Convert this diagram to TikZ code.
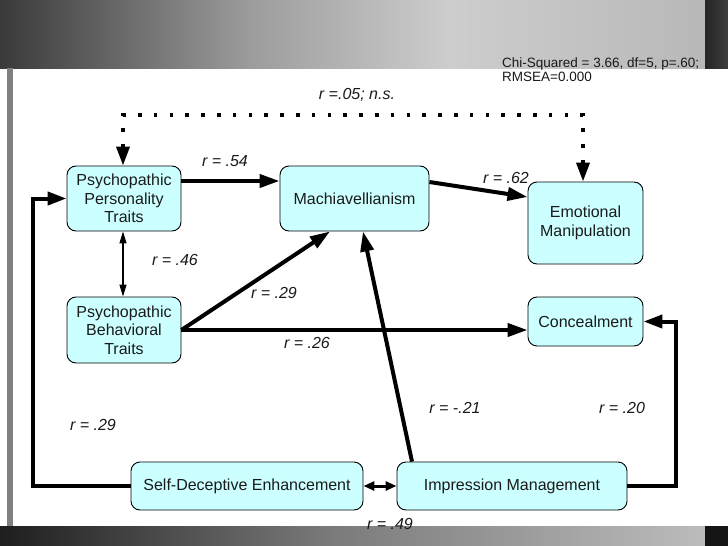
\documentclass[tikz,border=0pt]{standalone}
\usepackage{fontspec}
\setmainfont{Liberation Sans}
\usetikzlibrary{arrows.meta}
\definecolor{boxfill}{HTML}{CCFFFF}
\definecolor{txt}{HTML}{1A1A1A}
\definecolor{bA}{HTML}{3A3A3A}
\definecolor{bB}{HTML}{9C9C9C}
\definecolor{bC}{HTML}{CDCDCD}
\definecolor{bD}{HTML}{B8B8B8}
\definecolor{dA}{HTML}{1E1E1E}
\definecolor{dB}{HTML}{7A7A7A}
\definecolor{dC}{HTML}{BCBCBC}
\begin{document}
\begin{tikzpicture}[x=1pt,y=-1pt,
  box/.style={draw=black, line width=0.9pt, fill=boxfill, rounded corners=9pt,
    align=center, inner sep=0pt, text=txt, font=\fontsize{16}{18.4}\selectfont},
  lab/.style={inner sep=0pt, text=txt, font=\fontsize{16}{18}\selectfont\itshape},
  bigarrow/.style={line width=4pt, -{Triangle[length=20pt,width=13pt]}},
  loopline/.style={line width=4pt, line join=miter, -{Triangle[length=19pt,width=13pt]}},
  thinarrow/.style={line width=1.2pt, {Triangle[length=12pt,width=7pt]}-{Triangle[length=12pt,width=7pt]}},
  smallboth/.style={line width=3pt, {Triangle[length=11pt,width=9pt]}-{Triangle[length=11pt,width=9pt]}},
  dotarrow/.style={line width=3.6pt, line cap=butt, dash pattern=on 3.6pt off 12.2pt,
    {Triangle[length=19pt,width=13pt]}-{Triangle[length=19pt,width=13pt]}}
]
\useasboundingbox (0,0) rectangle (728,546);
\fill[white] (0,0) rectangle (728,546);
% background bands
\shade[left color=bA, right color=bB] (0,0) rectangle (250,68);
\shade[left color=bB, right color=bC] (249.5,0) rectangle (450,68);
\shade[left color=bC, right color=bD] (449.5,0) rectangle (705,68);
\shade[left color=black!85, right color=black!76] (705,0) rectangle (728,68);
\shade[left color=dA, right color=dB] (0,526) rectangle (330,546);
\shade[left color=dB, right color=dC] (329.5,526) rectangle (705,546);
\fill[black!92] (705,526) rectangle (728,546);
\fill[black!50] (7,68) rectangle (13,526);

% statistics
\node[anchor=base west, inner sep=0pt, text=txt, font=\fontsize{13.5}{14}\selectfont] (chi) at (502,67) {Chi-Squared = 3.66, df=5, p=.60;};
\node[anchor=base west, inner sep=0pt, text=txt, font=\fontsize{13.5}{14}\selectfont] (rmsea) at (502,81) {RMSEA=0.000};

% boxes
\node[box, minimum width=114pt, minimum height=65pt] (PPT) at (124,198.5) {Psychopathic\\Personality\\Traits};
\node[box, minimum width=114pt, minimum height=66pt] (PBT) at (124,330) {Psychopathic\\Behavioral\\Traits};
\node[box, minimum width=149pt, minimum height=65pt] (Mach) at (354.5,198.5) {Machiavellianism};
\node[box, minimum width=115pt, minimum height=82pt] (EM) at (585.5,223) {Emotional\\Manipulation};
\node[box, minimum width=115pt, minimum height=49pt] (Conc) at (585.5,321.5) {Concealment};
\node[box, minimum width=232pt, minimum height=48pt] (SDE) at (247,486) {Self-Deceptive Enhancement};
\node[box, minimum width=230pt, minimum height=48pt] (IM) at (512,486) {Impression Management};

% coordinates for bent connectors
\coordinate (D1) at (123,115);
\coordinate (D2) at (583,115);
\coordinate (L1) at (33,486);
\coordinate (L2) at (33,198.5);
\coordinate (R1) at (676,486);
\coordinate (R2) at (676,321.5);

% connectors
\draw[dotarrow] (PPT.north -| D1) -- (D1) -- (D2) -- (D2 |- EM.north);
\draw[bigarrow] ([yshift=17.5pt]PPT.east) -- ([yshift=17.5pt]Mach.west);
\draw[bigarrow] ([yshift=16.5pt]Mach.east) -- ([yshift=26pt]EM.west);
\draw[thinarrow] ([xshift=-1pt]PPT.south) -- ([xshift=-1pt]PBT.north);
\draw[bigarrow] (PBT.east) -- ([xshift=-24.5pt]Mach.south);
\draw[bigarrow] (PBT.east) -- ([yshift=-8.5pt]Conc.west);
\draw[bigarrow] ([xshift=-100pt]IM.north) -- ([xshift=8.5pt]Mach.south);
\draw[smallboth] (SDE.east) -- (IM.west);
\draw[loopline] (SDE.west) -- (L1) -- (L2) -- (PPT.west);
\draw[loopline] (IM.east) -- (R1) -- (R2) -- (Conc.east);

% labels
\node[lab] (l05) at (357,95) {r =.05; n.s.};
\node[lab] (l54) at (225,161) {r = .54};
\node[lab] (l62) at (506,178) {r = .62};
\node[lab] (l46) at (175,260) {r = .46};
\node[lab] (l29a) at (274,293) {r = .29};
\node[lab] (l26) at (307,343) {r = .26};
\node[lab] (l21) at (455,408) {r = -.21};
\node[lab] (l20) at (622,408) {r = .20};
\node[lab] (l29b) at (93,425) {r = .29};
\node[lab] (l49) at (390,524) {r = .49};
\end{tikzpicture}
\end{document}
